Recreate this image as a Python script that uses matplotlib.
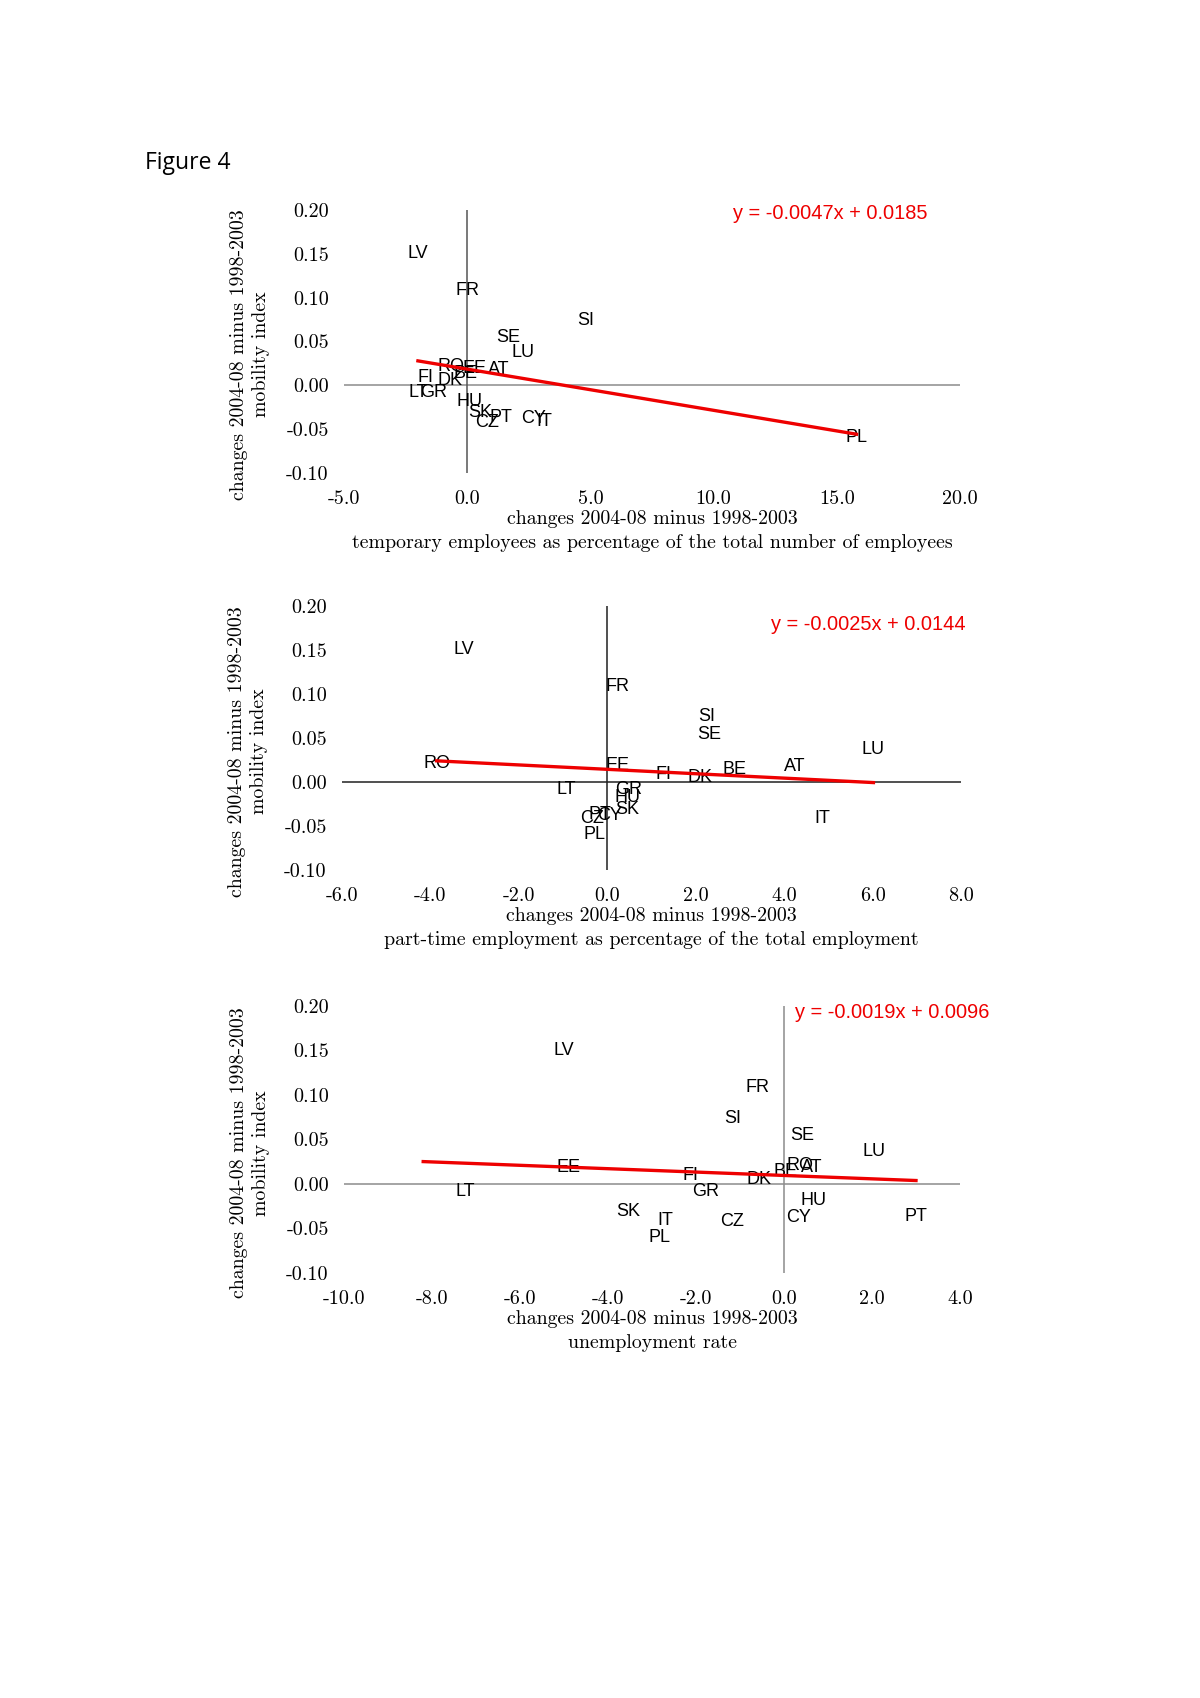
import matplotlib.pyplot as plt

countries = ["LV", "FR", "SI", "SE", "LU", "RO", "EE", "BE", "AT", "FI",
             "DK", "LT", "GR", "HU", "SK", "CZ", "PT", "CY", "IT", "PL"]

# changes 2004-08 minus 1998-2003, mobility index
mobility = [0.150, 0.108, 0.074, 0.054, 0.037, 0.021, 0.019, 0.014, 0.018, 0.009,
            0.005, -0.008, -0.008, -0.018, -0.031, -0.042, -0.037, -0.038, -0.041, -0.060]

temporary = [-2.0, 0.02, 4.82, 1.66, 2.25, -0.64, 0.31, -0.06, 1.26, -1.68,
             -0.71, -2.0, -1.38, 0.11, 0.51, 0.81, 1.35, 2.68, 3.12, 15.8]

part_time = [-3.25, 0.23, 2.24, 2.31, 6.02, -3.86, 0.23, 2.88, 4.23, 1.27,
             2.09, -0.93, 0.49, 0.46, 0.46, -0.35, -0.16, 0.06, 4.86, -0.30]

unemployment = [-5.01, -0.6, -1.16, 0.41, 2.05, 0.37, -4.9, 0.04, 0.62, -2.13,
                -0.57, -7.25, -1.77, 0.66, -3.55, -1.18, 2.99, 0.34, -2.69, -2.83]

slopes = [-0.0047, -0.0025, -0.0019]
intercepts = [0.0185, 0.0144, 0.0096]
trend_ranges = [(-2.0, 15.8), (-3.86, 6.02), (-8.2, 3.0)]

x_limits = [(-5, 20), (-6, 8), (-10, 4)]
x_ticks = [[-5, 0, 5, 10, 15, 20],
           [-6, -4, -2, 0, 2, 4, 6, 8],
           [-10, -8, -6, -4, -2, 0, 2, 4]]
y_ticks = [-0.10, -0.05, 0.00, 0.05, 0.10, 0.15, 0.20]

x_titles = ["temporary employees as percentage of the total number of employees",
            "part-time employment as percentage of the total employment",
            "unemployment rate"]

serif = ["cmr10", "DejaVu Serif"]
sans = ["Liberation Sans", "DejaVu Sans"]

fig = plt.figure(figsize=(12, 16.98), dpi=100)

fig.text(145 / 1200, 1 - 163 / 1698, "Figure 4", family=["Open Sans", "DejaVu Sans"],
         fontsize=16.5, ha="left", va="center")

# axes boxes in pixels: left, top, right, bottom
boxes = [(344, 210, 960, 473), (342, 606, 961, 870), (344, 1006, 960, 1273)]
axis_colors = [("#8c8c8c", "#555555"), ("#202020", "#202020"), ("#8c8c8c", "#8c8c8c")]
eq_pos = [(0.79, 0.985), (0.85, 0.93), (0.89, 0.975)]

xs_all = [temporary, part_time, unemployment]

for i in range(3):
    l, t, r, b = boxes[i]
    ax = fig.add_axes([l / 1200, 1 - b / 1698, (r - l) / 1200, (b - t) / 1698])
    ax.set_xlim(*x_limits[i])
    ax.set_ylim(-0.10, 0.20)
    for s in ax.spines.values():
        s.set_visible(False)

    hcol, vcol = axis_colors[i]
    ax.axhline(0, color=hcol, lw=1.1, zorder=1)
    ax.axvline(0, color=vcol, lw=1.1, zorder=1)

    ax.set_xticks(x_ticks[i])
    ax.set_xticklabels([f"{v:.1f}" for v in x_ticks[i]], family=serif, fontsize=14.5)
    ax.set_yticks(y_ticks)
    ax.set_yticklabels([f"{v:.2f}" for v in y_ticks], family=serif, fontsize=14.5)
    ax.tick_params(axis="x", length=0, pad=12)
    ax.tick_params(axis="y", length=0, pad=11)

    for name, x, y in zip(countries, xs_all[i], mobility):
        ax.text(x, y, name, family=sans, fontsize=13, ha="center", va="center",
                zorder=2)

    x0, x1 = trend_ranges[i]
    ax.plot([x0, x1], [slopes[i] * x0 + intercepts[i], slopes[i] * x1 + intercepts[i]],
            color="#ee0000", lw=2.4, zorder=3)

    eq = f"y = {slopes[i]:.4f}x + {intercepts[i]:.4f}"
    ax.text(*eq_pos[i], eq, transform=ax.transAxes, color="#ee0000", family=sans,
            fontsize=14.4, ha="center", va="center", clip_on=False)

    ax.set_xlabel("changes 2004-08 minus 1998-2003\n" + x_titles[i], family=serif,
                  fontsize=14.3, linespacing=1.42, va="top")
    ax.xaxis.set_label_coords(0.5, -0.14, transform=ax.transAxes)
    ax.set_ylabel("changes 2004-08 minus 1998-2003\nmobility index", family=serif,
                  fontsize=14.3, linespacing=1.3)
    ax.yaxis.set_label_coords(-0.12, 0.45, transform=ax.transAxes)

plt.savefig("out.png", dpi=100)
